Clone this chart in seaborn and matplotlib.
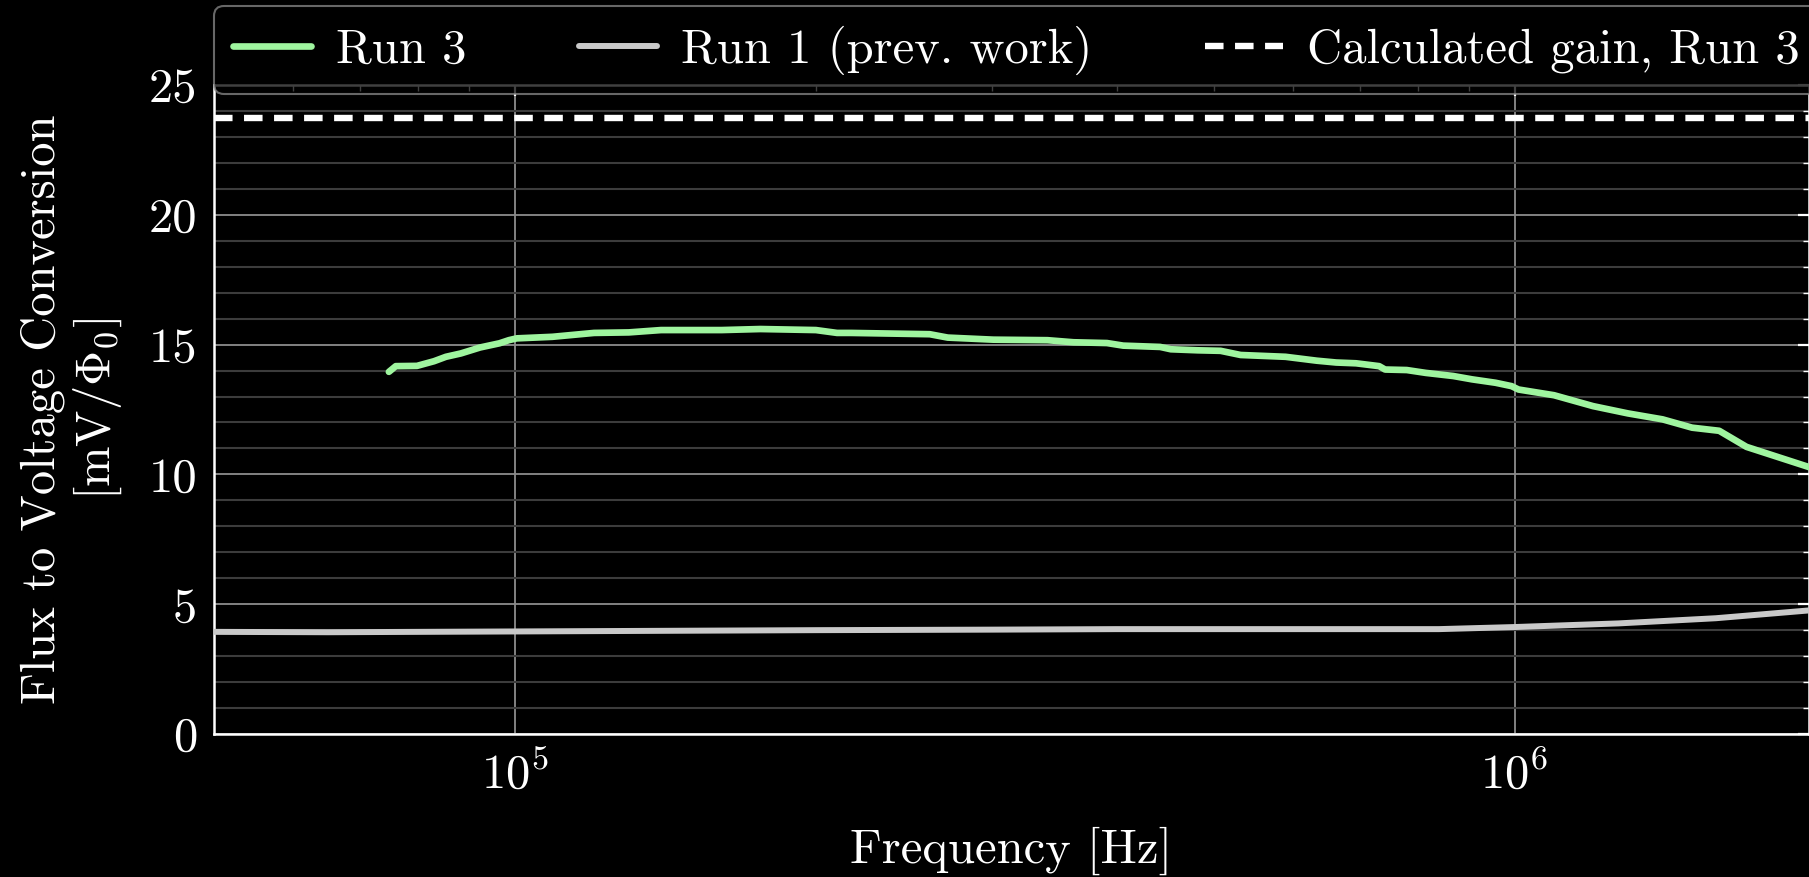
import numpy as np
import pandas as pd
import matplotlib
matplotlib.use("Agg")
import matplotlib.pyplot as plt
import matplotlib.ticker as mticker
import seaborn as sns

# ---- data ----
run3_freq = [74.8e3, 76.0e3, 79.8e3, 83.0e3, 85.3e3, 88.3e3, 92.3e3, 96.5e3, 98.6e3, 100.4e3,
             109e3, 120e3, 130e3, 140e3, 161e3, 176e3, 200e3, 210e3, 217e3, 260e3,
             271e3, 301e3, 341e3, 362e3, 391e3, 406e3, 442e3, 453e3, 482e3, 508e3,
             532e3, 590e3, 634e3, 663e3, 694e3, 732e3, 742e3, 780e3, 815e3, 868e3,
             907e3, 957e3, 993e3, 1.009e6, 1.095e6, 1.198e6, 1.298e6, 1.406e6, 1.505e6, 1.602e6,
             1.706e6, 2.0e6]
run3_gain = [13.95, 14.17, 14.18, 14.36, 14.53, 14.66, 14.89, 15.05, 15.17, 15.24,
             15.30, 15.45, 15.47, 15.56, 15.56, 15.60, 15.56, 15.45, 15.45, 15.40,
             15.27, 15.19, 15.17, 15.09, 15.06, 14.96, 14.91, 14.82, 14.78, 14.76,
             14.60, 14.53, 14.38, 14.31, 14.28, 14.17, 14.04, 14.02, 13.91, 13.79,
             13.66, 13.53, 13.40, 13.27, 13.05, 12.63, 12.35, 12.12, 11.80, 11.68,
             11.06, 10.20]

run1_freq = [4.5e4, 6.5e4, 1e5, 2e5, 3e5, 4e5, 6e5, 8.4e5, 1e6, 1.27e6, 1.59e6, 2.1e6]
run1_gain = [3.94, 3.92, 3.95, 4.00, 4.02, 4.04, 4.04, 4.04, 4.12, 4.26, 4.46, 4.85]

calc_gain_run3 = 23.72

labels = ["Run 3", "Run 1 (prev. work)", "Calculated gain, Run 3"]
x_label = "Frequency [Hz]"
y_label = "Flux to Voltage Conversion\n[mV/$\\Phi_0$]"

# ---- style ----
sns.set_style("dark", {"axes.facecolor": "black", "figure.facecolor": "black"})
plt.rcParams.update({
    "font.family": ["cmr10", "DejaVu Serif"],
    "mathtext.fontset": "cm",
    "axes.formatter.use_mathtext": True,
    "axes.unicode_minus": False,
    "text.color": "white",
    "axes.labelcolor": "white",
    "xtick.color": "white",
    "ytick.color": "white",
    "font.size": 35,
})

W, H, DPI = 1809, 877, 100
fig = plt.figure(figsize=(W / DPI, H / DPI), dpi=DPI, facecolor="black")
ax_left = 214 / W
ax_bottom = 1 - 734 / H
ax_top = 1 - 85 / H
ax = fig.add_axes([ax_left, ax_bottom, 1.0 - ax_left, ax_top - ax_bottom])
ax.set_facecolor("black")

df3 = pd.DataFrame({"freq": run3_freq, "gain": run3_gain})
df1 = pd.DataFrame({"freq": run1_freq, "gain": run1_gain})

sns.lineplot(data=df3, x="freq", y="gain", ax=ax, color="#9ff59f", lw=4.8,
             label=labels[0], zorder=4)
sns.lineplot(data=df1, x="freq", y="gain", ax=ax, color="#c9c9c9", lw=4.3,
             label=labels[1], zorder=4)
ax.axhline(calc_gain_run3, color="white", lw=4.6, ls=(0, (2.9, 1.8)),
           label=labels[2], zorder=4)

ax.set_xscale("log")
ax.set_xlim(5e4, 1.97e6)
ax.set_ylim(0, 25)

ax.yaxis.set_major_locator(mticker.MultipleLocator(5))
ax.yaxis.set_minor_locator(mticker.MultipleLocator(1))
ax.yaxis.set_major_formatter(mticker.FormatStrFormatter("%d"))
ax.xaxis.set_minor_locator(mticker.LogLocator(base=10, subs=np.arange(2, 10), numticks=20))
ax.xaxis.set_minor_formatter(mticker.NullFormatter())

ax.grid(which="major", axis="both", color="#8c8c8c", lw=1.3, zorder=0)
ax.grid(which="minor", axis="y", color="#3c3c3c", lw=1.5, zorder=0)
ax.grid(which="minor", axis="x", visible=False)
ax.set_axisbelow(True)

ax.tick_params(which="both", direction="in", top=True, right=True)
ax.tick_params(which="major", length=8, width=1.6, pad=12, labelsize=35)
ax.tick_params(which="minor", length=4.5, width=1.0)

for s in ax.spines.values():
    s.set_color("white")
    s.set_linewidth(1.8)
    s.set_visible(True)

ax.set_xlabel(x_label, fontsize=35, labelpad=21)
ax.set_ylabel(y_label, fontsize=35, labelpad=18, linespacing=1.15)

leg = ax.legend(loc="upper left", bbox_to_anchor=(ax_left, 1 - 6 / H),
                bbox_transform=fig.transFigure, ncol=3, fontsize=35,
                frameon=True, fancybox=True, framealpha=0.75,
                facecolor="black", edgecolor="#8a8a8a",
                handlelength=1.6, handletextpad=0.5, columnspacing=2.32,
                borderaxespad=0, borderpad=0.4)
leg.get_frame().set_linewidth(1.5)
for t in leg.get_texts():
    t.set_color("white")

fig.savefig("out.png", dpi=DPI, facecolor="black")
